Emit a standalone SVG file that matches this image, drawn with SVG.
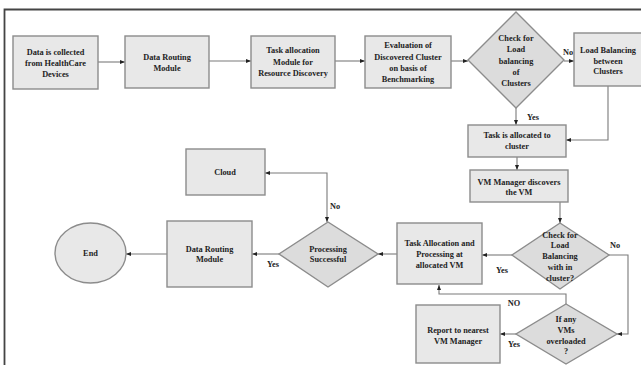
<svg xmlns="http://www.w3.org/2000/svg" width="641" height="365" viewBox="0 0 641 365">
<defs>
<marker id="ah" viewBox="0 0 10 10" refX="10" refY="5" markerWidth="5" markerHeight="5" orient="auto-start-reverse" markerUnits="userSpaceOnUse">
<path d="M0,1 L10,5 L0,9 z" fill="#222"/>
</marker>
<style>
.box{fill:#e8e8e8;stroke:#8c8c8c;stroke-width:1.4}
.dia{fill:#dcdcdc;stroke:#8c8c8c;stroke-width:1.4}
.t{font-family:"Liberation Serif","Times New Roman",serif;font-weight:bold;font-size:8.3px;fill:#222;text-anchor:middle}
.c{fill:none;stroke:#7a7a7a;stroke-width:1.1}
.frame{fill:none;stroke:#444;stroke-width:1.8}
</style>
</defs>
<rect width="641" height="365" fill="#fff"/>
<path class="frame" d="M4.5,365 V9.5 H641"/>

<g id="connectors">
<path class="c" d="M98,62 H125" marker-end="url(#ah)"/>
<path class="c" d="M209,61 H251" marker-end="url(#ah)"/>
<path class="c" d="M335,61 H365" marker-end="url(#ah)"/>
<path class="c" d="M451,61 H468" marker-end="url(#ah)"/>
<path class="c" d="M564,61 H574" marker-end="url(#ah)"/>
<path class="c" d="M516,108 V125" marker-end="url(#ah)"/>
<path class="c" d="M608,86 V140 H566" marker-end="url(#ah)"/>
<path class="c" d="M517,157 V170" marker-end="url(#ah)"/>
<path class="c" d="M560,202 V223" marker-end="url(#ah)"/>
<path class="c" d="M512,255 H482" marker-end="url(#ah)"/>
<path class="c" d="M609,255 H628 V334 H617" marker-end="url(#ah)"/>
<path class="c" d="M566,304 V294 H439 V285" marker-end="url(#ah)"/>
<path class="c" d="M516,334 H500" marker-end="url(#ah)"/>
<path class="c" d="M397,254 H378" marker-end="url(#ah)"/>
<path class="c" d="M327,222 V173 H265" marker-start="url(#ah)" marker-end="url(#ah)"/>
<path class="c" d="M279,254 H252" marker-end="url(#ah)"/>
<path class="c" d="M167,254 H126" marker-end="url(#ah)"/>
<text class="t" x="568" y="55">No</text>
<text class="t" x="533" y="120">Yes</text>
<text class="t" x="502" y="273">Yes</text>
<text class="t" x="615" y="248">No</text>
<text class="t" x="514" y="306">NO</text>
<text class="t" x="514" y="347">Yes</text>
<text class="t" x="335" y="209">No</text>
<text class="t" x="273" y="267">Yes</text>
</g>

<g id="n1"><rect class="box" x="13" y="36" width="85" height="53"/>
<text class="t" x="55.5" y="55">Data is collected</text><text class="t" x="55.5" y="66">from HealthCare</text><text class="t" x="55.5" y="77">Devices</text></g>
<g id="n2"><rect class="box" x="125" y="36" width="84" height="52"/>
<text class="t" x="167" y="60">Data Routing</text><text class="t" x="167" y="71">Module</text></g>
<g id="n3"><rect class="box" x="251" y="36" width="84" height="52"/>
<text class="t" x="293" y="53">Task allocation</text><text class="t" x="293" y="65">Module for</text><text class="t" x="293" y="76">Resource Discovery</text></g>
<g id="n4"><rect class="box" x="365" y="36" width="86" height="52"/>
<text class="t" x="408" y="48">Evaluation of</text><text class="t" x="408" y="60">Discovered Cluster</text><text class="t" x="408" y="71">on basis of</text><text class="t" x="408" y="82">Benchmarking</text></g>
<g id="n5"><path class="dia" d="M516,12 L564,60 L516,108 L468,60 Z"/>
<text class="t" x="516" y="41">Check for</text><text class="t" x="516" y="52">Load</text><text class="t" x="516" y="64">balancing</text><text class="t" x="516" y="75">of</text><text class="t" x="516" y="86">Clusters</text></g>
<g id="n6"><rect class="box" x="574" y="33" width="69" height="53"/>
<text class="t" x="608" y="53">Load Balancing</text><text class="t" x="608" y="64">between</text><text class="t" x="608" y="74">Clusters</text></g>
<g id="n7"><rect class="box" x="468" y="125" width="98" height="32"/>
<text class="t" x="517" y="138">Task is allocated to</text><text class="t" x="517" y="149">cluster</text></g>
<g id="n8"><rect class="box" x="470" y="170" width="98" height="32"/>
<text class="t" x="519" y="185">VM Manager discovers</text><text class="t" x="519" y="195">the VM</text></g>
<g id="n9"><path class="dia" d="M560,223 L609,255 L560,289 L512,255 Z"/>
<text class="t" x="560" y="238">Check for</text><text class="t" x="560" y="248">Load</text><text class="t" x="560" y="259">Balancing</text><text class="t" x="560" y="270">with in</text><text class="t" x="560" y="281">cluster?</text></g>
<g id="n10"><rect class="box" x="397" y="223" width="85" height="61"/>
<text class="t" x="439.5" y="246">Task Allocation and</text><text class="t" x="439.5" y="257">Processing at</text><text class="t" x="439.5" y="268">allocated VM</text></g>
<g id="n11"><path class="dia" d="M566,304 L617,334 L566,364 L516,334 Z"/>
<text class="t" x="566" y="322">If any</text><text class="t" x="566" y="333">VMs</text><text class="t" x="566" y="344">overloaded</text><text class="t" x="566" y="354">?</text></g>
<g id="n12"><rect class="box" x="416" y="305" width="84" height="58"/>
<text class="t" x="458" y="333">Report to nearest</text><text class="t" x="458" y="344">VM Manager</text></g>
<g id="n13"><path class="dia" d="M328,222 L378,254 L328,287 L279,254 Z"/>
<text class="t" x="328" y="252">Processing</text><text class="t" x="328" y="262">Successful</text></g>
<g id="n14"><rect class="box" x="186" y="149" width="79" height="46"/>
<text class="t" x="225" y="175">Cloud</text></g>
<g id="n15"><rect class="box" x="167" y="221" width="85" height="66"/>
<text class="t" x="209.5" y="252">Data Routing</text><text class="t" x="209.5" y="262">Module</text></g>
<g id="n16"><ellipse class="box" cx="90.5" cy="253" rx="35.5" ry="30"/>
<text class="t" x="90.5" y="256">End</text></g>
</svg>
